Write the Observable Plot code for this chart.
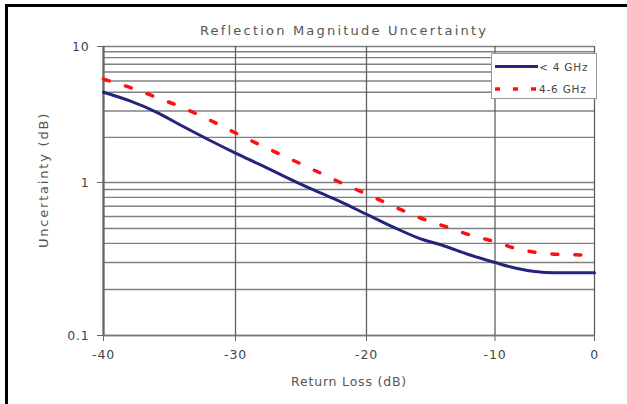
<!DOCTYPE html>
<html><head><meta charset="utf-8">
<script src="https://cdn.jsdelivr.net/npm/d3@7"></script>
<script src="https://cdn.jsdelivr.net/npm/@observablehq/plot@0.6"></script>
<style>
body{margin:0;background:#fff;}
#wrap{position:relative;width:627px;height:404px;overflow:hidden;background:#fff;}
#wrap svg text{letter-spacing:0.8px;}
#wrap svg g.ttl text{letter-spacing:2.2px;}
#wrap svg g.ylab text{letter-spacing:1.8px;}
#border{position:absolute;left:5px;top:4px;width:700px;height:500px;border:3px solid #000;box-sizing:border-box;pointer-events:none;}
#legend{position:absolute;left:491px;top:53px;width:106px;height:46px;border:1px solid #999;background:#fff;box-sizing:border-box;}
#legend text{font-family:"DejaVu Sans",Verdana,sans-serif;font-size:10.5px;fill:#444;letter-spacing:0.8px;}
</style></head>
<body><div id="wrap"><div id="border"></div></div>
<script>
// Data
const returnLoss = [-40,-38,-36,-34,-32,-30,-28,-26,-24,-22,-20,-18,-16,-14,-12,-10,-8,-6,-4,-2,0];
const below4GHz  = [4.0,3.5,2.95,2.37,1.92,1.57,1.3,1.07,0.89,0.75,0.62,0.515,0.435,0.386,0.337,0.30,0.276,0.262,0.257,0.257,0.257];
const returnLoss46 = [-40,-38,-36,-34,-32,-30,-28,-26,-24,-22,-20,-18,-16,-14,-12,-10,-8,-6,-4,-2,-1];
const band4to6GHz  = [5.2,4.4,3.7,3.15,2.62,2.14,1.76,1.46,1.21,1.0,0.84,0.705,0.595,0.52,0.455,0.41,0.372,0.35,0.34,0.337,0.336];
const xTicks = [-40,-30,-20,-10,0];
const yTicks = [0.1,1,10];
const yGrid = [0.1,0.2,0.3,0.4,0.5,0.6,0.7,0.8,0.9,1,2,3,4,5,6,7,8,9,10];
const seriesNames = ["< 4 GHz","4-6 GHz"];
const titleText = "Reflection Magnitude Uncertainty";
const xLabel = "Return Loss (dB)";
const yLabel = "Uncertainty (dB)";

const s1 = returnLoss.map((x,i)=>({x, y: below4GHz[i]}));
const s2 = returnLoss46.map((x,i)=>({x, y: band4to6GHz[i]}));

const plot = Plot.plot({
  width: 627, height: 404,
  marginLeft: 103, marginRight: 33, marginTop: 46, marginBottom: 69,
  style: {fontFamily: "DejaVu Sans, Verdana, sans-serif", fontSize: "12.5px", color: "#444", background: "transparent", overflow: "visible"},
  x: {type: "linear", domain: [-40,-30,-20,-10,0], range: [103,235,366,494.5,594]},
  y: {type: "log", domain: [0.1,1,4,10], range: [335,182,91.7,46]},
  marks: [
    Plot.ruleY(yGrid, {stroke: "#808080", strokeWidth: 1.4}),
    Plot.ruleX(xTicks, {stroke: "#606060", strokeWidth: 1.3}),
    Plot.ruleX([-40], {stroke: "#666", strokeWidth: 2.2}),
    Plot.ruleY([0.1], {stroke: "#777", strokeWidth: 1.6}),
    Plot.axisX({ticks: xTicks, tickSize: 6, tickPadding: 9, tickFormat: d => String(d), label: null, stroke: "#666"}),
    Plot.axisY({ticks: yTicks, tickSize: 6, tickPadding: 8, tickFormat: d => String(d), label: null, stroke: "#666"}),
    Plot.line(s2, {x: "x", y: "y", stroke: "#ff1010", strokeWidth: 3.5, strokeDasharray: "6,17", curve: "monotone-x"}),
    Plot.line(s1, {x: "x", y: "y", stroke: "#24247c", strokeWidth: 3, curve: "monotone-x"}),
    Plot.text([titleText], {frameAnchor: "top", dy: -16, dx: -5, lineAnchor: "middle", fontSize: 13, fill: "#555", className: "ttl"}),
    Plot.text([xLabel], {frameAnchor: "bottom", dy: 46, lineAnchor: "middle", fontSize: 12.5, fill: "#555"}),
    Plot.text([yLabel], {frameAnchor: "left", dx: -60, dy: -11, rotate: -90, textAnchor: "middle", lineAnchor: "middle", fontSize: 13, fill: "#555", className: "ylab"})
  ]
});
const wrap = document.getElementById("wrap");
wrap.insertBefore(plot, wrap.firstChild);

// Legend
const lg = document.createElement("div");
lg.id = "legend";
lg.innerHTML = `<svg width="104" height="44">
  <line x1="3" x2="46" y1="12.5" y2="12.5" stroke="#24247c" stroke-width="3"/>
  <text x="47" y="16.5">${seriesNames[0].replace("<","&lt;")}</text>
  <line x1="3" x2="46" y1="35" y2="35" stroke="#ff1010" stroke-width="3.5" stroke-dasharray="5,13"/>
  <text x="47" y="39">${seriesNames[1]}</text>
</svg>`;
wrap.appendChild(lg);
</script>
</body></html>
